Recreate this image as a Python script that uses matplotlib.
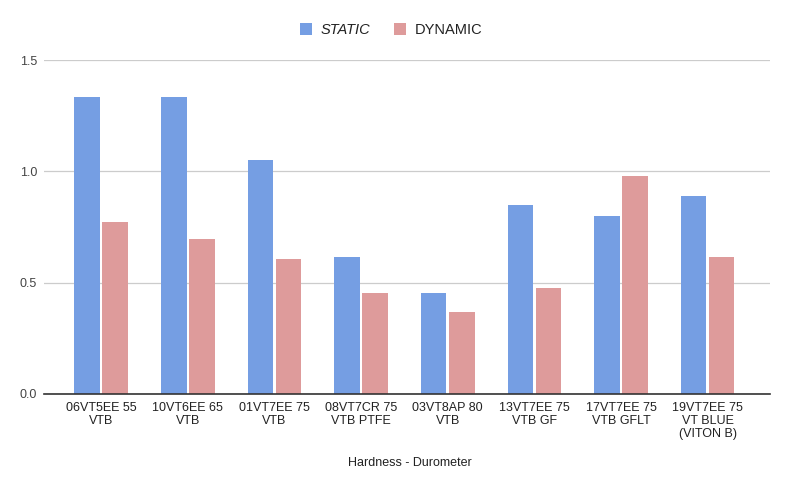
import matplotlib
matplotlib.use("Agg")
import matplotlib.pyplot as plt
import numpy as np

# data
categories = ["06VT5EE 55\nVTB", "10VT6EE 65\nVTB", "01VT7EE 75\nVTB",
              "08VT7CR 75\nVTB PTFE", "03VT8AP 80\nVTB", "13VT7EE 75\nVTB GF",
              "17VT7EE 75\nVTB GFLT", "19VT7EE 75\nVT BLUE\n(VITON B)"]
static_vals = [1.334, 1.334, 1.051, 0.614, 0.452, 0.847, 0.799, 0.889]
dynamic_vals = [0.772, 0.696, 0.606, 0.452, 0.368, 0.476, 0.979, 0.614]
yticks = [0.0, 0.5, 1.0, 1.5]

plt.rcParams['font.family'] = ['Liberation Sans', 'DejaVu Sans']

blue = "#759ee3"
red = "#de9b9b"

fig = plt.figure(figsize=(8, 4.86), dpi=100)
ax = fig.add_axes([44/800, 1-394/486, (770-44)/800, (394-60)/486])

x = np.arange(len(categories))
w = 0.295
b1 = ax.bar(x - 0.162, static_vals, w, color=blue, label="STATIC", zorder=3)
b2 = ax.bar(x + 0.162, dynamic_vals, w, color=red, label="DYNAMIC", zorder=3)

ax.set_xlim(-0.66, 7.72)
ax.set_ylim(0, 1.5)
ax.set_yticks(yticks)
ax.set_yticklabels(["%.1f" % v for v in yticks])
ax.set_xticks(x)
ax.set_xticklabels(categories, fontsize=9, color="#222222", linespacing=1.12,
                   va="top")
ax.tick_params(axis="y", length=0, pad=5, labelsize=9, labelcolor="#444444")
ax.tick_params(axis="x", length=0, pad=6)
ax.grid(axis="y", color="#cccccc", linewidth=0.9, zorder=0)
for s in ["left", "right", "top"]:
    ax.spines[s].set_visible(False)
ax.spines["bottom"].set_color("#333333")
ax.spines["bottom"].set_linewidth(1.2)
ax.spines["bottom"].set_zorder(4)

fig.text(410/800, 1-463/486, "Hardness - Durometer", fontsize=9, color="#222222",
         ha="center", va="center")

leg = fig.legend(handles=[b1, b2], loc="center", bbox_to_anchor=(391/800, 1-30/486),
                 ncol=2, frameon=False, fontsize=10.5, handlelength=0.85, handleheight=0.85,
                 handletextpad=0.6, columnspacing=1.6)
leg.get_texts()[0].set_style("italic")
for t in leg.get_texts():
    t.set_color("#222222")

fig.savefig("out.png", dpi=100)
